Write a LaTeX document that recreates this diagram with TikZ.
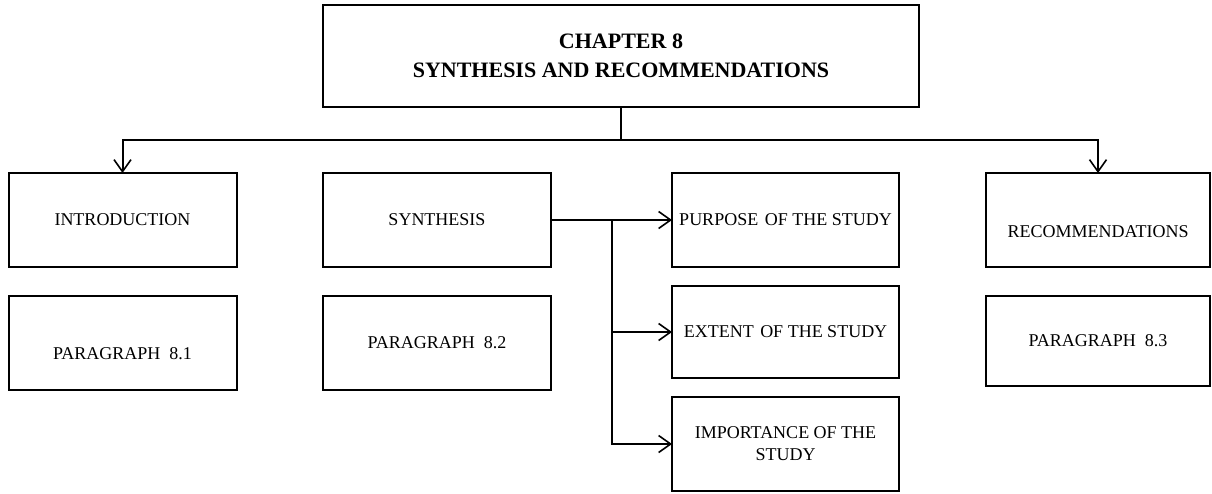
\documentclass[tikz,border=0pt]{standalone}
\usepackage{fontspec}
\setmainfont{Liberation Serif}
\usetikzlibrary{arrows.meta, calc, positioning}
\def\boxwidth{228pt}
\def\boxheight{94pt}
\def\rowgap{29pt}
\def\stackgap{19pt}
\def\boxlinewidth{2pt}
\def\busdrop{33pt}
\def\bodyfont{\fontsize{18}{22}\selectfont}
\def\titlefont{\fontsize{22}{29}\selectfont\bfseries}
\def\lowered#1#2{\raisebox{#1}[0pt][0pt]{#2}}
\tikzset{
	% texts
	boxtext/.style={
		font=\bodyfont,
		align=center,
	},
	% chapter heading
	chapbox/.style={
		shape=rectangle,
		draw=black,
		line width=\boxlinewidth,
		minimum width=596pt,
		minimum height=102pt,
		font=\titlefont,
		align=center,
		inner sep=0pt,
		outer sep=0pt,
	},
	% parts of the chapter
	partbox/.style={
		shape=rectangle,
		draw=black,
		line width=\boxlinewidth,
		minimum width=\boxwidth,
		minimum height=\boxheight,
		boxtext,
		inner sep=0pt,
		outer sep=0pt,
	},
	% connections
	junction/.style={
		line width=\boxlinewidth,
	},
	connection/.style={
		line width=\boxlinewidth,
		-{Straight Barb[length=12pt, width=17pt, line width=1.6pt]},
	}
}
\begin{document}
\begin{tikzpicture}[x=1pt, y=1pt]
		\useasboundingbox (0,0) rectangle (1212,-493);
		% Chapter heading
		\node[
			chapbox
		] (chapter) at (621,-56) {CHAPTER 8\\SYNTHESIS AND RECOMMENDATIONS};
		
		% First row
		\node[
			partbox
		] (intro) at (122.5,-220) {INTRODUCTION};
		%
		\node[
			partbox
		] (synthesis) at (437,-220) {SYNTHESIS};
		%
		\node[
			partbox,
			minimum width=227pt,
		] (purpose) at (785.5,-220) {PURPOSE\hspace{2pt} OF THE STUDY};
		%
		\node[
			partbox,
			minimum width=224pt,
		] (recommend) at (1098,-220) {\lowered{-17pt}{RECOMMENDATIONS}};
		
		% Second row
		\node[
			partbox,
			below=\rowgap of intro,
		] (para1) {\lowered{-16pt}{PARAGRAPH~~8.1}};
		%
		\node[
			partbox,
			below=\rowgap of synthesis,
		] (para2) {PARAGRAPH~~8.2};
		%
		\node[
			partbox,
			minimum width=224pt,
			minimum height=90pt,
			below=\rowgap of recommend,
		] (para3) {PARAGRAPH~~8.3};
		
		% Parts of the synthesis
		\node[
			partbox,
			minimum width=227pt,
			minimum height=92pt,
			below=\stackgap of purpose,
		] (extent) {EXTENT\hspace{2pt} OF THE STUDY};
		%
		\node[
			partbox,
			minimum width=227pt,
			below=\stackgap of extent,
		] (importance) {IMPORTANCE OF THE\\STUDY};
		
		% Connections
		%% Chapter -> parts
		\draw [
			junction
		] (chapter.south) -- ++(0,-\busdrop) coordinate (bus);
		\draw [
			connection
		] (bus) -| (intro.north);
		\draw [
			connection
		] (bus) -| (recommend.north);
		%% Synthesis -> its parts
		\coordinate (fork) at ($(synthesis.east)!0.5!(purpose.west)$);
		\draw [
			connection
		] (synthesis.east) -- (purpose.west);
		\foreach \part in {extent, importance} {
			\draw [
				connection
			] (fork) |- (\part.west);
		}
	\end{tikzpicture}
\end{document}
